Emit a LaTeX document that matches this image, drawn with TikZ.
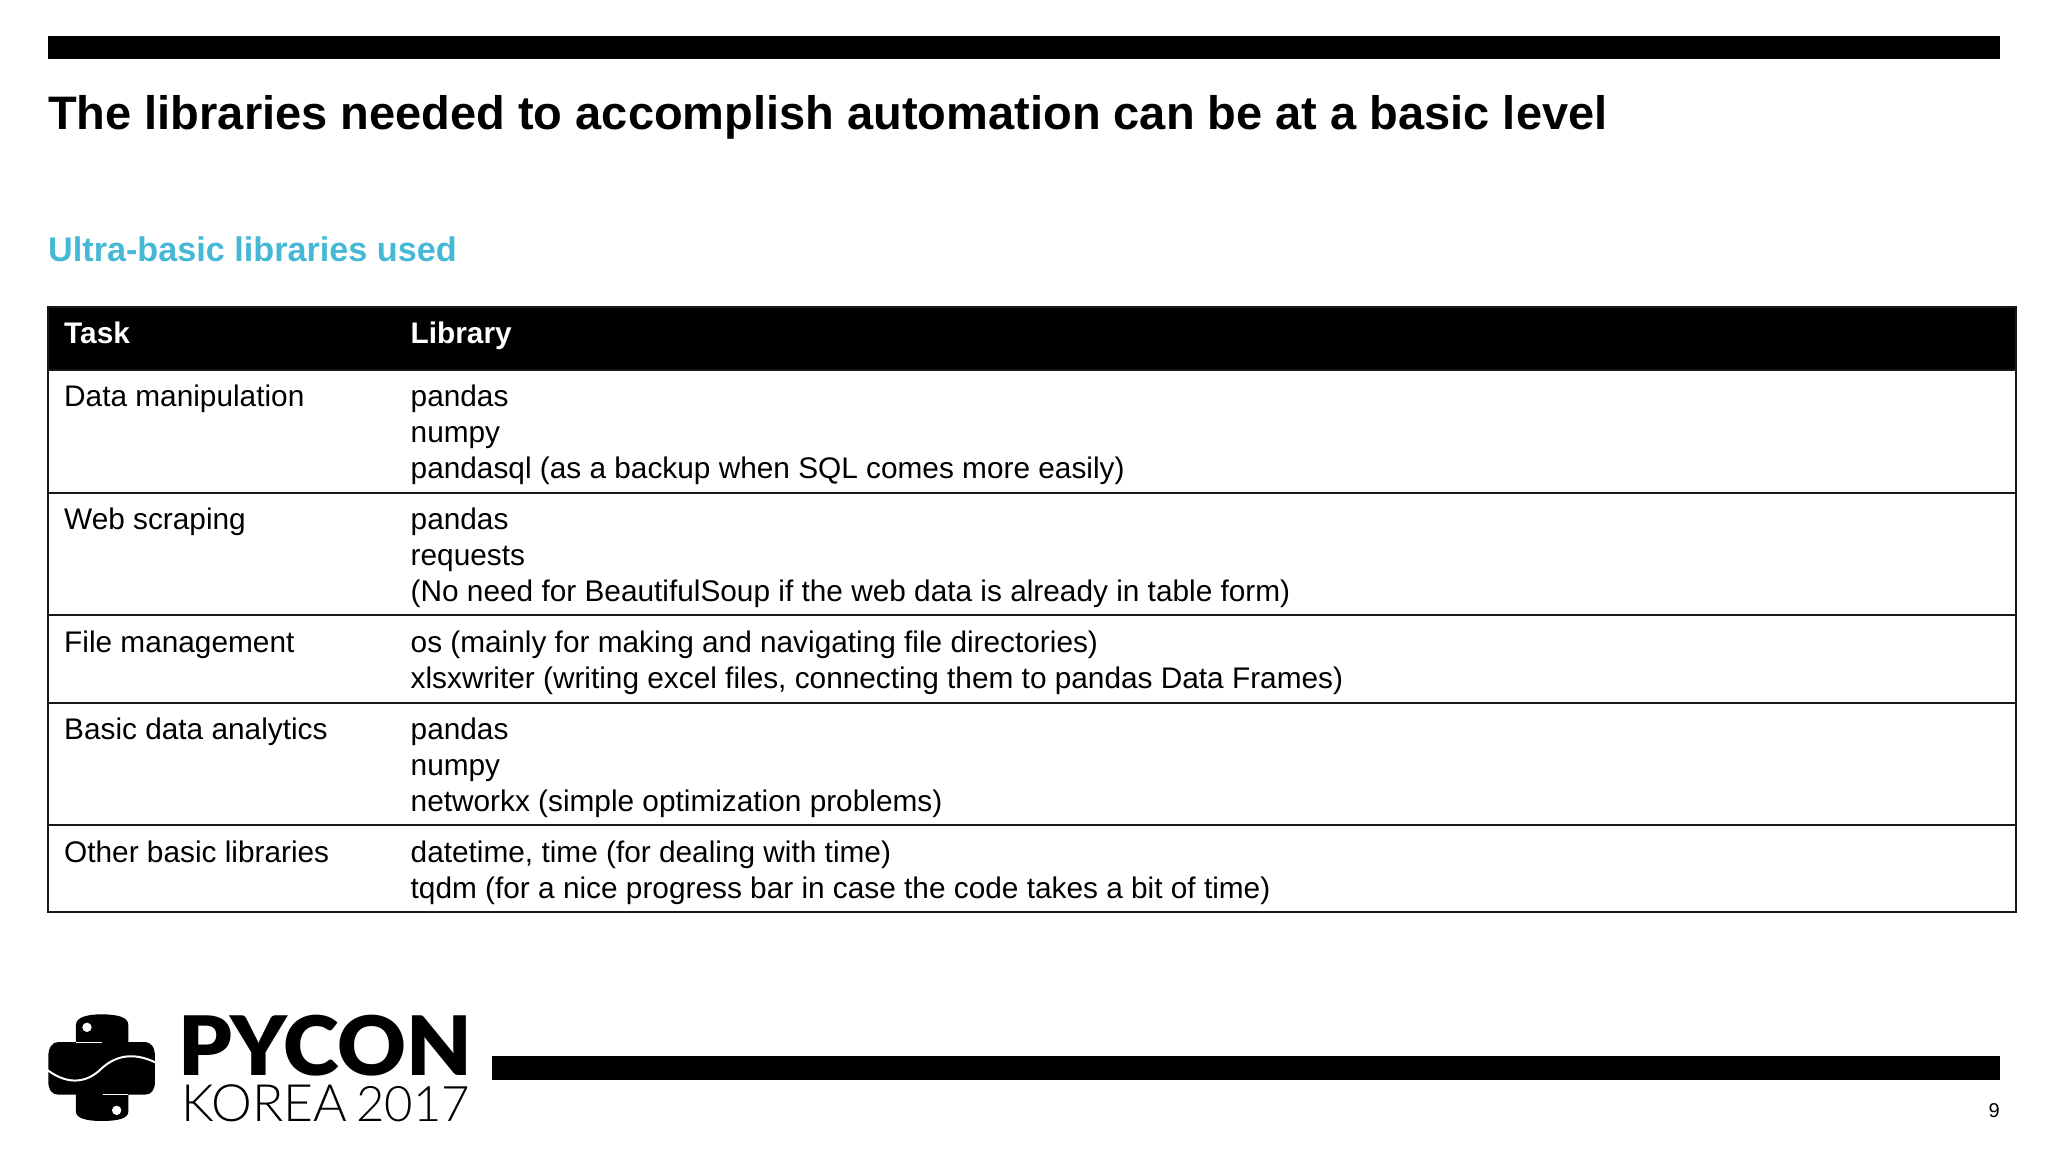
\documentclass[tikz,border=0pt]{standalone}
\usepackage{fontspec}
\setmainfont{Liberation Sans}
\newfontfamily\latoblack[FakeStretch=1.033]{Lato Black}
\newfontfamily\latolight{Lato Light}
\definecolor{slidecyan}{HTML}{45B8D6}

\begin{document}
\begin{tikzpicture}[
  x=1pt,
  y=-1pt,
  slide bar/.style={
    fill=black,
    draw=none
  },
  table rule/.style={
    draw=black!90,
    line width=2pt
  },
  cell text/.style={
    anchor=north west,
    inner sep=0pt,
    align=left,
    font=\fontsize{29.8}{36}\selectfont
  },
  head text/.style={
    cell text,
    text=white,
    font=\fontsize{29.8}{36}\selectfont\bfseries
  },
]
\useasboundingbox (0,0) rectangle (2048,1152);
\fill[slide bar] (48,36) rectangle (2000,59);
\fill[slide bar] (492,1056) rectangle (2000,1080);
\node[anchor=base west,inner sep=0pt,font=\fontsize{47}{52}\selectfont\bfseries] (slidetitle) at (48,129) {The libraries needed to accomplish automation can be at a basic level};
\node[anchor=base west,inner sep=0pt,text=slidecyan,font=\fontsize{34.2}{39}\selectfont\bfseries] (subtitle) at (48,261) {Ultra-basic libraries used};

\fill[black] (48,307) rectangle (2016,370);
\draw[table rule] (48,307) rectangle (2016,912);
\foreach \ruley in {370,492.5,615,702.6,825.4} {
  \draw[table rule] (48,\ruley) -- (2016,\ruley);
}

\node[head text] (taskhead) at (64,322) {Task};
\node[head text] (libhead) at (410.5,322) {Library};

\node[cell text] (taskdata) at (64,385) {Data manipulation};
\node[cell text] (libdata) at (410.5,385) {pandas\\numpy\\pandasql (as a backup when SQL comes more easily)};
\node[cell text] (taskweb) at (64,508) {Web scraping};
\node[cell text] (libweb) at (410.5,508) {pandas\\requests\\(No need for BeautifulSoup if the web data is already in table form)};
\node[cell text] (taskfile) at (64,631) {File management};
\node[cell text] (libfile) at (410.5,631) {os (mainly for making and navigating file directories)\\xlsxwriter (writing excel files, connecting them to pandas Data Frames)};
\node[cell text] (taskstat) at (64,718) {Basic data analytics};
\node[cell text] (libstat) at (410.5,718) {pandas\\numpy\\networkx (simple optimization problems)};
\node[cell text] (taskother) at (64,841) {Other basic libraries};
\node[cell text] (libother) at (410.5,841) {datetime, time (for dealing with time)\\tqdm (for a nice progress bar in case the code takes a bit of time)};

\node[anchor=base east,inner sep=0pt,font=\fontsize{20}{24}\selectfont] (pagenumber) at (2000,1117) {9};

\begin{scope}[shift={(30,990)},x=.3333pt,y=-.3333pt]
  \fill[black] (138,156) -- (138,105) .. controls (138,82) and (170,73) .. (215,73) .. controls (265,73) and (295,82) .. (295,105) -- (295,156) -- (345,156) .. controls (365,156) and (375,175) .. (375,200) -- (375,275) .. controls (375,298) and (365,314) .. (345,314) -- (295,314) -- (295,365) .. controls (295,385) and (265,393) .. (215,393) .. controls (170,393) and (138,385) .. (138,365) -- (138,314) -- (85,314) .. controls (65,314) and (55,298) .. (55,275) -- (55,200) .. controls (55,175) and (65,156) .. (85,156) -- cycle;
  \draw[white,line width=2pt] (52,240) .. controls (120,290) and (175,275) .. (215,235) .. controls (265,190) and (320,190) .. (378,218);
  \draw[white,line width=.7pt] (138,156) -- (215,156);
  \draw[white,line width=.7pt] (218,314) -- (295,314);
  \fill[white] (171,112) circle (14);
  \fill[white] (260,361) circle (14);
\end{scope}
\node[anchor=south west,inner sep=0pt,align=left,font=\fontsize{82}{48}\selectfont] (logotext) at (178.5,1122) {{\latoblack PYCON}\\[-2pt]\hspace*{3pt}{\fontsize{51.5}{48}\latolight\selectfont KOREA\hspace{9pt}\fontsize{49}{48}\selectfont 2017}};
\end{tikzpicture}
\end{document}
